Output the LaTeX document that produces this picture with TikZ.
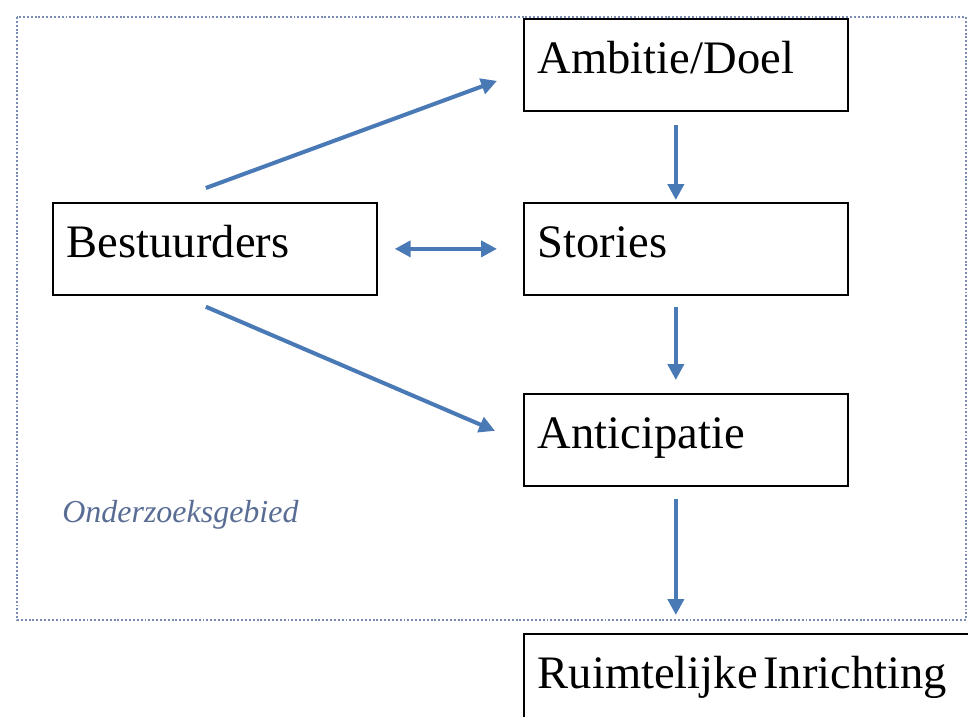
\documentclass[tikz,border=0pt]{standalone}
\usepackage{fontspec}
\setmainfont{Liberation Serif}
\usetikzlibrary{arrows.meta,calc}
\definecolor{flowblue}{RGB}{74,122,182}
\definecolor{areablue}{RGB}{120,140,182}
\definecolor{labelblue}{RGB}{88,108,148}
\tikzset{stage box/.style={draw,line width=1pt,fill=white,anchor=north west,align=left,
    inner xsep=0.28cm,inner ysep=0pt,text width=5.92cm,
    text height=1.1cm,text depth=0.74cm,font=\fontsize{26.5}{30}\selectfont}}
\tikzset{flow edge/.style={flowblue,line width=2.3pt,-{Triangle[length=9pt,width=9pt]}}}
\tikzset{both edge/.style={flow edge,{Triangle[length=9pt,width=9pt]}-{Triangle[length=9pt,width=9pt]}}}

\begin{document}
\begin{tikzpicture}[x=0.02cm,y=-0.02cm]

\useasboundingbox (0,0) rectangle (968,717);
\clip (0,0) rectangle (968,717);

% onderzoeksgebied
\draw[areablue,line width=1.1pt,dash pattern=on 1.1pt off 1.1pt] (17,17) rectangle (966,620);
\node[anchor=base west,inner sep=0pt,text=labelblue,
      font=\fontsize{18.2}{21}\itshape] (gebied) at (62,522) {Onderzoeksgebied};

\node[stage box] (ambitie) at (523,18) {Ambitie/Doel};
\node[stage box] (stories) at (523,202) {Stories};
\node[stage box] (anticipatie) at (523,393) {Anticipatie};
\node[stage box] (bestuurders) at (52,202) {Bestuurders};
\node[stage box,text width=8.9cm] (ruimte) at (523,633) {Ruimtelijke\hspace{0.12em}Inrichting};

\draw[flow edge] ($(bestuurders.north)+(-9,-14)$) -- ($(ambitie.west)+(-26,16)$);
\draw[both edge] ($(bestuurders.east)+(17,0)$) -- ($(stories.west)+(-26,0)$);
\draw[flow edge] ($(bestuurders.south)+(-9,11)$) -- ($(anticipatie.west)+(-28,-9)$);
\draw[flow edge] ($(ambitie.south)+(-10,13)$) -- ($(stories.north)+(-10,-2)$);
\draw[flow edge] ($(stories.south)+(-10,11)$) -- ($(anticipatie.north)+(-10,-13)$);
\draw[flow edge] ($(anticipatie.south)+(-10,12)$) -- ($(anticipatie.south |- ruimte.north)+(-10,-18)$);

\end{tikzpicture}
\end{document}
